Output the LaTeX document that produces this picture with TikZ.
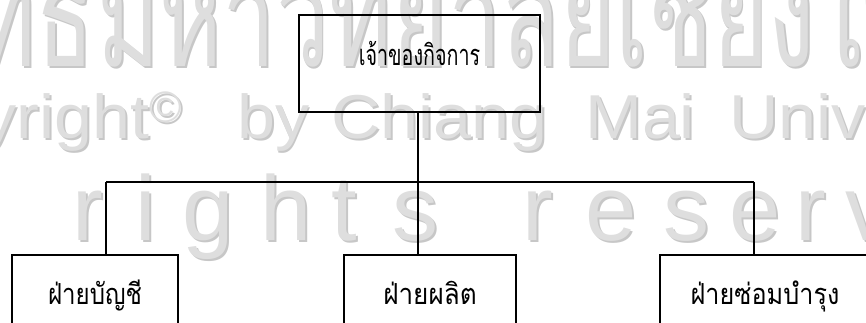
\documentclass[tikz,border=0pt]{standalone}
\usepackage{fontspec}
\newfontfamily\thai[Script=Thai]{Loma}
\newfontfamily\wmlat{Liberation Sans}
\definecolor{wmfill}{gray}{0.87}
\definecolor{wmshade}{gray}{0.78}
\newcommand\wmput[4]{% name, position, style, text
  \node[wmback,#3,xshift=1.8pt,yshift=-1.8pt] (#1s) at #2 {#4};
  \node[wmfront,#3] (#1) at #2 {#4};}
\begin{document}
\begin{tikzpicture}[x=1pt,y=1pt,
  wmfront/.style={inner sep=0pt,text=wmfill},
  wmback/.style={inner sep=0pt,text=wmshade},
  wmthai/.style={anchor=base west,font=\thai\fontsize{140}{150}\selectfont},
  wmrow/.style={anchor=base west,font=\wmlat\fontsize{62}{70}\selectfont},
  wmbig/.style={anchor=base west,font=\wmlat\fontsize{92}{100}\selectfont},
  box/.style={draw=black,line width=1.6pt,inner sep=0pt,
    font=\thai\fontsize{29}{32}\selectfont},
  link/.style={draw=black,line width=1.6pt}]
\useasboundingbox (0,0) rectangle (866,323);
% watermark
\begin{scope}
\clip (0,0) rectangle (866,323);
\wmput{wa}{(95,256)}{wmthai,anchor=base east}{\scalebox{0.68}[1]{ลิขสิทธิ์}}
\wmput{wb}{(97,256)}{wmthai}{\scalebox{0.68}[1]{มหาวิทยาลัยเชียงใหม่}}
\wmput{wc}{(182,184)}{wmrow,anchor=base east}{\scalebox{1.1}[1]{Copyright}\raisebox{16pt}{\fontsize{44}{44}\selectfont ©}}
\wmput{wd}{(237,184)}{wmrow}{\scalebox{1.1}[1]{by}}
\wmput{we}{(331,184)}{wmrow}{\scalebox{1.1}[1]{Chiang}}
\wmput{wf}{(585,184)}{wmrow}{\scalebox{1.1}[1]{Mai}}
\wmput{wg}{(729,184)}{wmrow}{\scalebox{1.1}[1]{University}}
\foreach \c/\px [count=\i] in {r/72,i/135,g/182,h/260,t/331,s/392,r/522,e/585,s/663,e/729,r/795,v/845}
  {\wmput{wr\i}{(\px,82)}{wmbig}{\c}}
\end{scope}
% chart
\node[box,minimum width=241,minimum height=97,text height=5pt,text depth=0pt]
  (top) at (419.5,259.5) {\scalebox{0.68}[1]{เจ้าของกิจการ}};
\node[box,minimum width=166,minimum height=88,text height=12pt,text depth=0pt]
  (acc) at (95,24) {\scalebox{0.83}[1]{ฝ่ายบัญชี}};
\node[box,minimum width=172,minimum height=88,text height=12pt,text depth=0pt]
  (prod) at (430,24) {\scalebox{0.9}[1]{ฝ่ายผลิต}};
\node[box,minimum width=210,minimum height=88,text height=12pt,text depth=0pt]
  (maint) at (765,24) {\scalebox{0.87}[1]{ฝ่ายซ่อมบำรุง}};
\coordinate (hl) at (106,141);
\coordinate (hm) at (418,141);
\coordinate (hr) at (754,141);
\draw[link] (top.south -| hm) -- (hm);
\draw[link] (hl) -- (hr);
\draw[link] (hl) -- (hl |- acc.north);
\draw[link] (hm) -- (hm |- prod.north);
\draw[link] (hr) -- (hr |- maint.north);
\end{tikzpicture}
\end{document}
